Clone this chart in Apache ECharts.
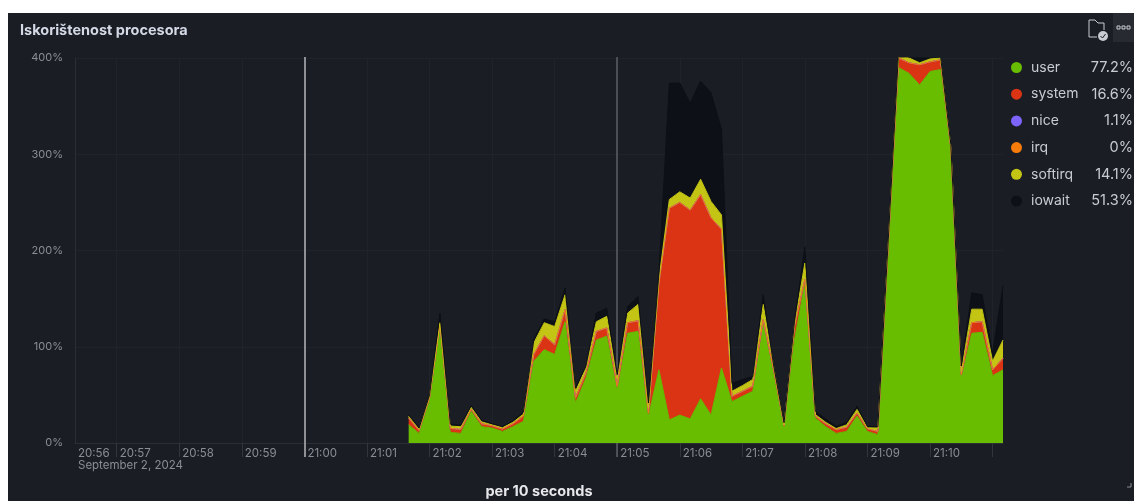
<!DOCTYPE html>
<html>
<head>
<meta charset="utf-8">
<title>Iskorištenost procesora</title>
<script src="https://cdn.jsdelivr.net/npm/echarts@6/dist/echarts.min.js"></script>
<style>
  html, body { margin: 0; height: 100%; background: #fff; overflow: hidden; }
  #chart { position: absolute; left: 8px; top: 13px; width: 1126px; height: 488px; }
</style>
</head>
<body>
<div id="chart"></div>
<script>
// samples every 10 s; the axis starts at 20:56:20, data only starts at 21:01:40
const axisStart = Date.UTC(2024, 8, 2, 20, 56, 20)
const axisEnd = Date.UTC(2024, 8, 2, 21, 11, 10)
const stepMs = 10000
const emptySamples = 32

const user = [19, 10, 45, 121, 11, 10, 33, 17, 15.5, 12, 17, 22.5, 85, 97, 92, 126, 41.5, 67.5, 107, 111, 55, 114, 116, 28, 76, 24, 29, 25, 46, 29, 78, 43, 48.5, 53.7, 125, 73, 17, 107, 166, 26, 17, 10, 12, 28, 12, 8.6, 205, 390, 384, 372, 386, 388, 305, 67.5, 114, 115, 70, 76]
const system = [7, 3, 2, 2, 3, 4, 2, 3, 2.5, 2.5, 3, 5.5, 7, 14.5, 10, 12.5, 5.5, 5.2, 9, 8.5, 4, 11, 11, 3, 90, 220, 221, 217, 212, 205, 144, 5.5, 5.2, 5.3, 3, 3, 1, 14, 4, 2, 3, 4, 3.6, 3, 2.5, 3.4, 1, 10, 11, 21, 10, 10, 1, 3.5, 11, 11, 6, 12]
const nice = [0, 0, 0, 0, 1.1, 0.3, 0, 0, 0, 0, 0, 0, 0, 0, 0, 0, 0, 0, 0, 0, 0, 0, 0, 0, 0, 0, 0, 0, 0, 0, 0, 0, 0, 0, 0, 0, 0, 0, 0, 0, 0, 0, 0.8, 0.3, 0.3, 0, 0, 0, 0, 0, 0, 0, 0, 0, 0, 0, 0, 0]
const irq = [0, 0, 0, 0, 0, 0, 0, 0, 0, 0, 0, 0, 0, 0, 0, 0, 0, 0, 0, 0, 0, 0, 0, 0, 0, 0, 0, 0, 0, 0, 0, 0, 0, 0, 0, 0, 0, 0, 0, 0, 0, 0, 0, 0, 0, 0, 0, 0, 0, 0, 0, 0, 0, 0, 0, 0, 0, 0]
const softirq = [2, 1.5, 1.5, 2, 2.5, 2.6, 2, 2, 1, 1.5, 1.5, 2, 12, 13.5, 19, 15.5, 6.7, 5.3, 10, 12.1, 8.5, 10, 17, 5, 4, 9, 11, 12.5, 16, 17, 15, 5.2, 5.9, 7, 16, 4, 1, 2, 17, 1.5, 1.5, 1, 2.4, 3.6, 1, 3.6, 2, 3, 5, 2, 3, 2, 2, 3.5, 14, 13, 9, 19]
const iowait = [1, 1, 1.5, 10, 2, 1.4, 1.8, 1.5, 1, 1, 1.5, 2, 3, 4, 5, 7, 3.3, 2, 9, 8.4, 3.5, 7, 8, 5.6, 6, 121, 113, 98.5, 102, 113, 89, 8.3, 6.4, 3, 10, 1, 2, 3, 17, 3.5, 3.5, 2.4, 2.5, 3.4, 1.4, 1.4, 4, 7, 4, 5, 4, 3, 2, 5.5, 17, 15, 8, 57]

const seriesNames = ['user', 'system', 'nice', 'irq', 'softirq', 'iowait']
const seriesValues = [user, system, nice, irq, softirq, iowait]
const seriesColors = ['#69BD00', '#DB3415', '#7D64FF', '#F57C0A', '#C4C414', '#0D1117']
const legendValues = ['77.2%', '16.6%', '1.1%', '0%', '14.1%', '51.3%']

const hiddenLabel = '21:11'
const dateLabel = 'September 2, 2024'
const annotations = [Date.UTC(2024, 8, 2, 21, 0), Date.UTC(2024, 8, 2, 21, 5)]

const times = []
for (let t = axisStart; t <= axisEnd; t += stepMs) {
  times.push(new Date(t).toISOString().slice(11, 19))
}

const chart = echarts.init(document.getElementById('chart'))

const isMinute = (index, value) => value.endsWith(':00')

const stackSeries = seriesNames.map((name, s) => ({
  name,
  type: 'line',
  stack: 'cpu',
  z: 3,
  showSymbol: false,
  symbol: 'circle',
  color: seriesColors[s],
  lineStyle: { width: 1, color: seriesColors[s] },
  areaStyle: { color: seriesColors[s], opacity: 1 },
  data: new Array(emptySamples).fill(null).concat(seriesValues[s])
}))

const option = {
  backgroundColor: '#1B1D25',
  animation: false,
  textStyle: { fontFamily: 'Inter' },
  title: {
    text: 'Iskorištenost procesora',
    left: 7,
    top: 5,
    textStyle: { color: '#D3DAE6', fontSize: 14.5, fontWeight: 'bold', fontFamily: 'Inter' }
  },
  legend: {
    data: seriesNames,
    orient: 'vertical',
    left: 998,
    top: 42,
    icon: 'circle',
    itemWidth: 11,
    itemHeight: 11,
    itemGap: 11.7,
    selectedMode: false,
    formatter: name => '{n|' + name + '}{v|' + legendValues[seriesNames.indexOf(name)] + '}',
    textStyle: {
      color: '#C8CCD2',
      rich: {
        n: { width: 53, height: 17, padding: [0, 0, 0, 4], fontSize: 14, color: '#C8CCD2', fontFamily: 'Inter' },
        v: { width: 49, height: 17, align: 'right', fontSize: 14.5, color: '#C8CCD2', fontFamily: 'Inter' }
      }
    }
  },
  grid: [
    { left: 67, right: 131, top: 45, bottom: 58, outerBoundsMode: 'none' },
    { left: 67, right: 131, top: 44, bottom: 44, outerBoundsMode: 'none' }
  ],
  xAxis: [
    {
      type: 'category',
      boundaryGap: false,
      data: times,
      name: 'per 10 seconds',
      nameLocation: 'middle',
      nameGap: 41,
      nameTextStyle: { color: '#E6E8EC', fontSize: 14.5, fontWeight: 'bold', fontFamily: 'Inter' },
      axisLine: { show: true, lineStyle: { color: '#2C2E36' } },
      axisTick: { show: true, length: 14, interval: isMinute, lineStyle: { color: '#33353D' } },
      axisLabel: {
        interval: (index, value) => index === 0 || isMinute(index, value),
        formatter: value => value.slice(0, 5) === hiddenLabel ? '' : value.slice(0, 5),
        align: 'left',
        verticalAlign: 'top',
        margin: 5,
        padding: [0, 0, 0, 3],
        color: '#8A8D93',
        fontSize: 11.5,
        fontFamily: 'Inter'
      },
      splitLine: { show: true, interval: isMinute, lineStyle: { color: '#21232B', width: 1 } }
    },
    { type: 'value', gridIndex: 1, min: axisStart, max: axisEnd, show: false, splitLine: { show: false } }
  ],
  yAxis: [
    {
      type: 'value',
      min: 0,
      max: 400,
      interval: 100,
      axisLine: { show: true, lineStyle: { color: '#2C2E36' } },
      axisTick: { show: false },
      axisLabel: { formatter: '{value}%', margin: 12, color: '#8A8D93', fontSize: 11, fontFamily: 'Inter' },
      splitLine: { show: true, lineStyle: { color: '#21232B', width: 1 } }
    },
    { type: 'value', gridIndex: 1, min: 0, max: 1, show: false, splitLine: { show: false } }
  ],
  series: [
    {
      name: 'annotations',
      type: 'line',
      xAxisIndex: 1,
      yAxisIndex: 1,
      z: 1,
      data: [],
      markLine: {
        silent: true,
        symbol: 'none',
        animation: false,
        label: { show: false },
        z: 1,
        data: [
          { xAxis: annotations[0], lineStyle: { color: '#8F9096', width: 2, type: 'solid' } },
          { xAxis: annotations[1], lineStyle: { color: '#5C5F66', width: 1.5, type: 'solid' } }
        ]
      }
    }
  ].concat(stackSeries),
  graphic: [
    { type: 'text', left: 70, top: 447, style: { text: dateLabel, fill: '#8A8D93', font: '11.5px Inter' } },
    // panel header icons
    { type: 'polyline', shape: { points: [[1089, 24], [1081, 24], [1081, 7], [1087, 7], [1090, 10], [1096, 10], [1096, 17]] }, style: { stroke: '#C8CCD2', fill: 'none', lineWidth: 1 } },
    { type: 'circle', shape: { cx: 1095, cy: 23, r: 5 }, style: { fill: '#C8CCD2' } },
    { type: 'polyline', shape: { points: [[1092.5, 23], [1094.5, 25], [1097.5, 21]] }, style: { stroke: '#1B1D25', fill: 'none', lineWidth: 1 } },
    { type: 'rect', shape: { x: 1105, y: 0, width: 21, height: 29 }, style: { fill: '#282A32' } },
    { type: 'rect', shape: { x: 1109, y: 13, width: 3, height: 3 }, style: { stroke: '#C8CCD2', fill: 'none', lineWidth: 1 } },
    { type: 'rect', shape: { x: 1114, y: 13, width: 3, height: 3 }, style: { stroke: '#C8CCD2', fill: 'none', lineWidth: 1 } },
    { type: 'rect', shape: { x: 1119, y: 13, width: 3, height: 3 }, style: { stroke: '#C8CCD2', fill: 'none', lineWidth: 1 } },
    { type: 'polyline', shape: { points: [[1123, 470], [1123, 474], [1119, 474]] }, style: { stroke: '#8A8D93', fill: 'none', lineWidth: 1 } }
  ]
}

chart.setOption(option)
</script>
</body>
</html>
